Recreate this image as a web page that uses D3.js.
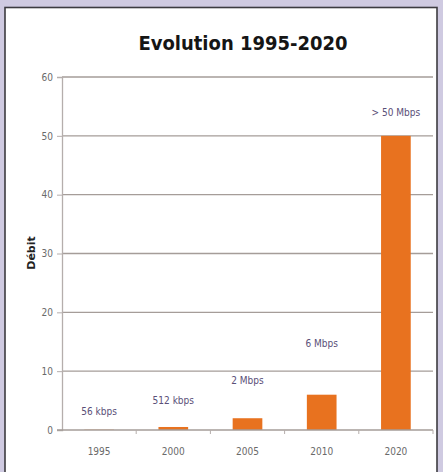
<!DOCTYPE html>
<html>
<head>
<meta charset="utf-8">
<script src="https://cdn.jsdelivr.net/npm/d3@7"></script>
<style>
  body { margin: 0; background: #cfcae1; }
</style>
</head>
<body>
<svg id="chart" width="443" height="472"></svg>
<script>
// data
var years = ["1995", "2000", "2005", "2010", "2020"]
var debit = [0.056, 0.512, 2, 6, 50]
var labels = ["56 kbps", "512 kbps", "2 Mbps", "6 Mbps", "> 50 Mbps"]
// height of each label in axis units (labels sit at uneven heights)
var labelAt = [2.6, 4.4, 7.9, 14.1, 53.4]
var yTicks = [0, 10, 20, 30, 40, 50, 60]

var svg = d3.select("#chart")

// white panel with dark border
svg.append("rect")
   .attr("x", 5)
   .attr("y", 7.5)
   .attr("width", 432)
   .attr("height", 480)
   .attr("fill", "#ffffff")
   .attr("stroke", "#3c3b40")
   .attr("stroke-width", 1.6)

svg.append("text")
   .attr("x", 243)
   .attr("y", 50)
   .attr("text-anchor", "middle")
   .style("font-family", "'DejaVu Sans Condensed', 'DejaVu Sans', sans-serif")
   .style("font-weight", "bold")
   .style("font-size", "20px")
   .attr("fill", "#151515")
   .text("Evolution 1995-2020")

var pLeft = 62, pRight = 433, pTop = 77, pBottom = 430

var x = d3.scaleBand()
          .domain(years)
          .range([pLeft, pRight])
          .paddingInner(0.6)
          .paddingOuter(0.3)

var xb = d3.scaleBand().domain(years).range([pLeft, pRight])

var y = d3.scaleLinear()
          .domain([0, 60])
          .range([pBottom, pTop])

// gridlines
svg.append("g")
   .selectAll("line")
   .data(yTicks.slice(1))
   .enter()
   .append("line")
   .attr("x1", pLeft)
   .attr("x2", pRight)
   .attr("y1", function(d) {return y(d);})
   .attr("y2", function(d) {return y(d);})
   .attr("stroke", "#a59d99")
   .attr("stroke-width", 1.3)

// y axis
var yAxis = svg.append("g")
   .attr("transform", "translate(" + pLeft + ",0)")
   .call(d3.axisLeft(y).tickValues(yTicks).tickSize(5).tickPadding(4))
yAxis.select(".domain").attr("stroke", "#b5aeac").attr("stroke-width", 1.3)
yAxis.selectAll(".tick line").attr("stroke", "#b5aeac")
yAxis.selectAll("text")
     .attr("fill", "#6a6a6a")
     .style("font-family", "'Liberation Sans Narrow', 'DejaVu Sans Condensed', sans-serif")
     .style("font-size", "10px")

// bars
svg.append("g")
   .selectAll("rect")
   .data(debit)
   .enter()
   .append("rect")
   .attr("x", function(d, i) {return x(years[i]);})
   .attr("y", function(d) {return y(d);})
   .attr("width", x.bandwidth())
   .attr("height", function(d) {return pBottom - y(d);})
   .attr("fill", "#e8721f")

// x axis with ticks at category boundaries
var xg = svg.append("g").attr("transform", "translate(0," + pBottom + ")")
xg.append("line")
  .attr("x1", pLeft - 5)
  .attr("x2", pRight)
  .attr("stroke", "#a59d99")
  .attr("stroke-width", 1.3)
xg.selectAll(".bt")
  .data(years)
  .enter()
  .append("line")
  .attr("class", "bt")
  .attr("x1", function(d) {return xb(d) + xb.bandwidth();})
  .attr("x2", function(d) {return xb(d) + xb.bandwidth();})
  .attr("y1", 0)
  .attr("y2", 4)
  .attr("stroke", "#b5aeac")
xg.selectAll(".yl")
  .data(years)
  .enter()
  .append("text")
  .attr("class", "yl")
  .attr("x", function(d) {return xb(d) + xb.bandwidth() / 2;})
  .attr("y", 25)
  .attr("text-anchor", "middle")
  .attr("fill", "#6a6a6a")
  .style("font-family", "'Liberation Sans Narrow', 'DejaVu Sans Condensed', sans-serif")
  .style("font-size", "10px")
  .text(function(d) {return d;})

// value labels
svg.append("g")
   .selectAll("text")
   .data(labels)
   .enter()
   .append("text")
   .attr("x", function(d, i) {return xb(years[i]) + xb.bandwidth() / 2;})
   .attr("y", function(d, i) {return y(labelAt[i]);})
   .attr("text-anchor", "middle")
   .attr("fill", "#5a4f78")
   .style("font-family", "'Liberation Sans Narrow', 'DejaVu Sans Condensed', sans-serif")
   .style("font-size", "10px")
   .text(function(d) {return d;})

// axis title
svg.append("text")
   .attr("transform", "translate(35,253) rotate(-90)")
   .attr("text-anchor", "middle")
   .style("font-family", "'DejaVu Sans', sans-serif")
   .style("font-weight", "bold")
   .style("font-size", "11px")
   .attr("fill", "#222")
   .text("Débit")
</script>
</body>
</html>
